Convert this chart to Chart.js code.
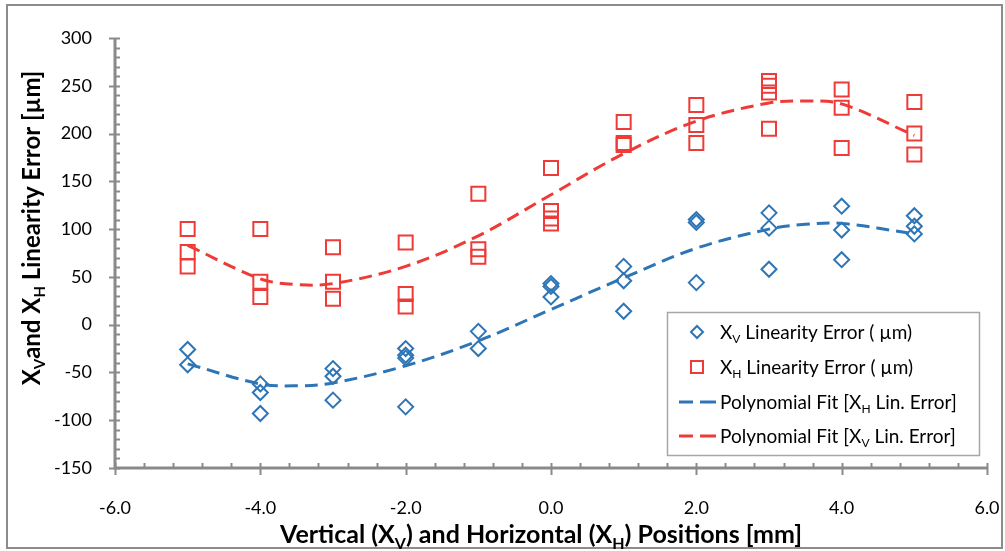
<!DOCTYPE html>
<html>
<head>
<meta charset="utf-8">
<script src="https://cdn.jsdelivr.net/npm/chart.js@4.4.1/dist/chart.umd.min.js"></script>
<style>
  html, body { margin: 0; padding: 0; background: #fff; }
  canvas { display: block; }
</style>
</head>
<body>
<canvas id="chart" width="1005" height="551"></canvas>
<script>
// Measurement positions [mm]
const positions = [-5, -4, -3, -2, -1, 0, 1, 2, 3, 4, 5];

// Vertical (XV) linearity error readings at each position [µm]
const xvError = [
  [-26, -42],
  [-62, -71, -93],
  [-46, -54, -79],
  [-25, -32, -35, -86],
  [-7, -25],
  [43, 40, 29],
  [61, 46, 14],
  [110, 107, 44],
  [117, 101, 58],
  [124, 99, 68],
  [114, 103, 95]
];

// Horizontal (XH) linearity error readings at each position [µm]
const xhError = [
  [100, 76, 61],
  [100, 45, 29],
  [81, 45, 27],
  [86, 32, 19],
  [137, 79, 71],
  [164, 119, 111, 106],
  [212, 190, 188],
  [230, 209, 190],
  [255, 250, 243, 205],
  [246, 227, 185],
  [233, 200, 178]
];

// Polynomial fit curves, sampled along the position axis
const fitX = [-5, -4, -3.5, -3, -2, -1, 0, 1, 2, 3, 3.5, 4, 5];
const fitBlue = [-41, -62, -64, -61, -43, -17, 16, 49, 80, 100, 105, 106, 95];
const fitRed = [83, 48, 42, 43, 61, 93, 136, 179, 213, 232, 234, 231, 198];

// Axis ranges and tick labels
const xTicks = [-6, -4, -2, 0, 2, 4, 6];
const yTicks = [-150, -100, -50, 0, 50, 100, 150, 200, 250, 300];

const BLUE = '#2E75B6';
const RED = '#EE3B37';
const AXIS = '#8a8a8a';
const FONT = 'Lato, "Open Sans", sans-serif';

function toPoints(xs, groups) {
  const pts = [];
  groups.forEach((g, i) => g.forEach(v => pts.push({ x: xs[i], y: v })));
  return pts;
}
function toLine(xs, ys) {
  return xs.map((x, i) => ({ x, y: ys[i] }));
}

// Text runs with optional subscripts
function richWidth(ctx, runs, size, weight) {
  let w = 0;
  runs.forEach(r => {
    ctx.font = weight + ' ' + (r.sub ? Math.round(size * 0.62) : size) + 'px ' + FONT;
    w += ctx.measureText(r.t).width;
  });
  return w;
}
function drawRich(ctx, runs, x, y, size, weight, align) {
  const total = richWidth(ctx, runs, size, weight);
  let cx = align === 'center' ? x - total / 2 : x;
  ctx.textBaseline = 'alphabetic';
  ctx.textAlign = 'left';
  runs.forEach(r => {
    const s = r.sub ? Math.round(size * 0.62) : size;
    ctx.font = weight + ' ' + s + 'px ' + FONT;
    ctx.fillText(r.t, cx, r.sub ? y + size * 0.22 : y);
    cx += ctx.measureText(r.t).width;
  });
}

const frame = {
  id: 'frame',
  beforeDraw(chart) {
    const ctx = chart.ctx;
    ctx.save();
    ctx.fillStyle = '#fff';
    ctx.fillRect(0, 0, chart.width, chart.height);
    ctx.strokeStyle = '#8c8c8c';
    ctx.lineWidth = 2;
    ctx.strokeRect(7, 5, 995, 543);
    ctx.restore();
  },
  afterDraw(chart) {
    const ctx = chart.ctx;
    const xs = chart.scales.x, ys = chart.scales.y;
    const left = xs.getPixelForValue(-6), right = xs.getPixelForValue(6);
    const top = ys.getPixelForValue(300), bottom = ys.getPixelForValue(-150);
    ctx.save();
    ctx.strokeStyle = AXIS;
    // y minor ticks (every 10) and major ticks (every 50)
    ctx.lineWidth = 2;
    for (let v = -150; v <= 300; v += 10) {
      const py = Math.round(ys.getPixelForValue(v)) + 0.5;
      ctx.beginPath();
      if (v % 50 === 0) { ctx.moveTo(left - 6, py); ctx.lineTo(left + 5, py); }
      else { ctx.moveTo(left, py); ctx.lineTo(left + 5, py); }
      ctx.stroke();
    }
    // x minor ticks (every 0.4) and major ticks (every 2)
    for (let i = 0; i <= 30; i++) {
      const v = -6 + i * 0.4;
      const px = Math.round(xs.getPixelForValue(v)) + 0.5;
      ctx.beginPath();
      if (i % 5 === 0) { ctx.moveTo(px, bottom - 5); ctx.lineTo(px, bottom + 7); }
      else { ctx.moveTo(px, bottom - 5); ctx.lineTo(px, bottom); }
      ctx.stroke();
    }
    // axis lines
    ctx.lineWidth = 3;
    ctx.beginPath();
    ctx.moveTo(left, top);
    ctx.lineTo(left, bottom);
    ctx.lineTo(right, bottom);
    ctx.stroke();

    // axis titles
    ctx.fillStyle = '#000';
    drawRich(ctx, [
      { t: 'Vertical (X' }, { t: 'V', sub: true }, { t: ') and Horizontal (X' },
      { t: 'H', sub: true }, { t: ') Positions [mm]' }
    ], 541, 543, 25, 'bold', 'center');
    ctx.save();
    ctx.translate(40, 228);
    ctx.rotate(-Math.PI / 2);
    drawRich(ctx, [
      { t: 'X' }, { t: 'V', sub: true }, { t: 'and X' }, { t: 'H', sub: true },
      { t: ' Linearity Error [µm]' }
    ], 0, 0, 24, 'bold', 'center');
    ctx.restore();

    // legend
    const lx = 667, ly = 312, lw = 312, lh = 143;
    ctx.fillStyle = '#fff';
    ctx.fillRect(lx, ly, lw, lh);
    ctx.strokeStyle = '#a6a6a6';
    ctx.lineWidth = 1.5;
    ctx.strokeRect(lx + 0.5, ly + 0.5, lw, lh);
    const rows = [
      { kind: 'diamond', runs: [{ t: 'X' }, { t: 'V', sub: true }, { t: ' Linearity Error ( µm)' }] },
      { kind: 'square', runs: [{ t: 'X' }, { t: 'H', sub: true }, { t: ' Linearity Error ( µm)' }] },
      { kind: 'blueline', runs: [{ t: 'Polynomial Fit [X' }, { t: 'H', sub: true }, { t: ' Lin. Error]' }] },
      { kind: 'redline', runs: [{ t: 'Polynomial Fit [X' }, { t: 'V', sub: true }, { t: ' Lin. Error]' }] }
    ];
    const rowY = [332, 367, 402, 436];
    rows.forEach((r, i) => {
      const cy = rowY[i];
      ctx.lineWidth = 2;
      if (r.kind === 'diamond') {
        ctx.strokeStyle = BLUE;
        ctx.beginPath();
        ctx.moveTo(697 - 6, cy); ctx.lineTo(697, cy - 6); ctx.lineTo(697 + 6, cy); ctx.lineTo(697, cy + 6);
        ctx.closePath(); ctx.stroke();
      } else if (r.kind === 'square') {
        ctx.strokeStyle = RED;
        ctx.strokeRect(691, cy - 6, 12, 12);
      } else {
        ctx.strokeStyle = r.kind === 'blueline' ? BLUE : RED;
        ctx.lineWidth = 3;
        ctx.beginPath(); ctx.moveTo(679, cy); ctx.lineTo(693, cy); ctx.stroke();
        ctx.beginPath(); ctx.moveTo(700, cy); ctx.lineTo(716, cy); ctx.stroke();
      }
      ctx.fillStyle = '#000';
      drawRich(ctx, r.runs, 720, cy + 7, 19, 'normal', 'left');
    });
    ctx.restore();
  }
};

new Chart(document.getElementById('chart'), {
  type: 'scatter',
  data: {
    datasets: [
      {
        label: 'Polynomial Fit [XH Lin. Error]',
        data: toLine(fitX, fitBlue),
        showLine: true, pointRadius: 0, tension: 0.35,
        borderColor: BLUE, borderWidth: 3, borderDash: [13, 7], order: 0
      },
      {
        label: 'Polynomial Fit [XV Lin. Error]',
        data: toLine(fitX, fitRed),
        showLine: true, pointRadius: 0, tension: 0.35,
        borderColor: RED, borderWidth: 3, borderDash: [13, 7], order: 0
      },
      {
        label: 'XV Linearity Error ( µm)',
        data: toPoints(positions, xvError),
        pointStyle: 'rectRot', pointRadius: 7.5, pointBorderWidth: 2,
        borderColor: BLUE, backgroundColor: 'rgba(0,0,0,0)', order: 1
      },
      {
        label: 'XH Linearity Error ( µm)',
        data: toPoints(positions, xhError),
        pointStyle: 'rect', pointRadius: 9.9, pointBorderWidth: 2,
        borderColor: RED, backgroundColor: 'rgba(0,0,0,0)', order: 1
      }
    ]
  },
  options: {
    responsive: false,
    animation: false,
    layout: { padding: { top: 38, right: 18, left: 0, bottom: 0 } },
    plugins: { legend: { display: false }, tooltip: { enabled: false } },
    scales: {
      x: {
        type: 'linear', min: xTicks[0], max: xTicks[xTicks.length - 1],
        afterBuildTicks: s => { s.ticks = xTicks.map(v => ({ value: v })); },
        afterFit: s => { s.height = 83; s.paddingLeft = 0; s.paddingRight = 0; },
        grid: { display: false, drawTicks: false },
        border: { display: false },
        ticks: {
          padding: 29, color: '#000', font: { family: FONT, size: 18 },
          maxRotation: 0, callback: v => Number(v).toFixed(1)
        }
      },
      y: {
        type: 'linear', min: yTicks[0], max: yTicks[yTicks.length - 1],
        afterBuildTicks: s => { s.ticks = yTicks.map(v => ({ value: v })); },
        afterFit: s => { s.width = 115; s.paddingTop = 0; s.paddingBottom = 0; },
        grid: { display: false, drawTicks: false },
        border: { display: false },
        ticks: { padding: 23, color: '#000', font: { family: FONT, size: 18 } }
      }
    }
  },
  plugins: [frame]
});
</script>
</body>
</html>
